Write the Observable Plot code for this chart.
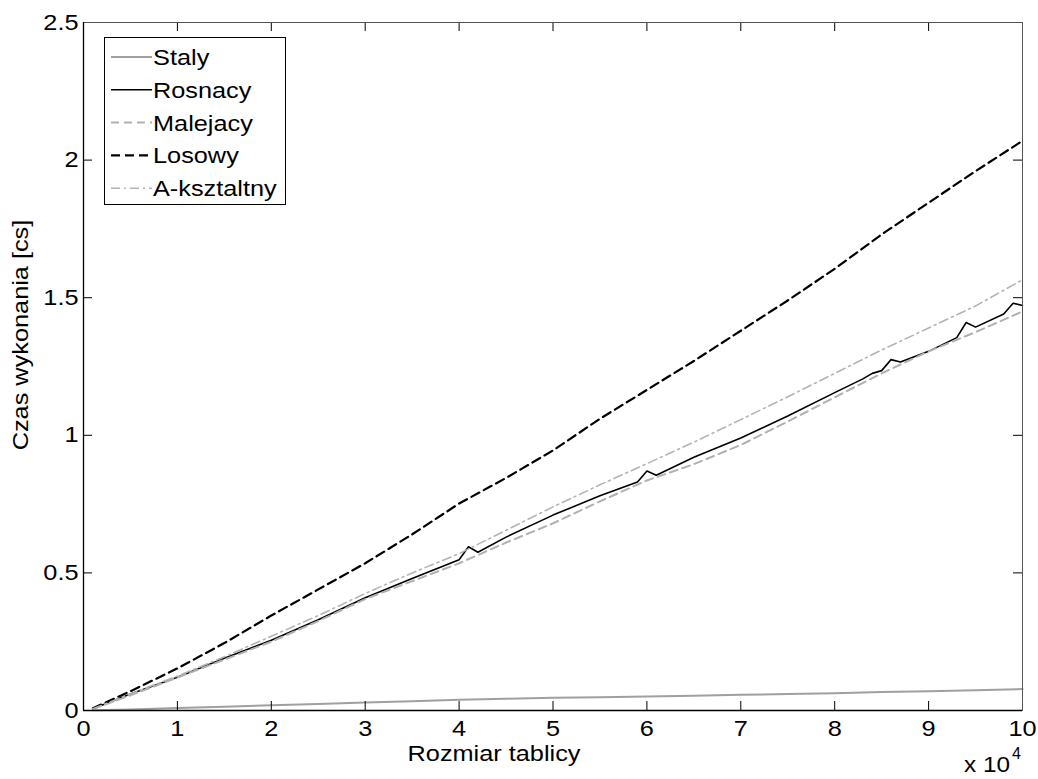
<!DOCTYPE html>
<html>
<head>
<meta charset="utf-8">
<script src="https://cdn.jsdelivr.net/npm/d3@7"></script>
<script src="https://cdn.jsdelivr.net/npm/@observablehq/plot@0.6"></script>
<style>
  html, body { margin: 0; padding: 0; background: #fff; }
  #chart { position: relative; width: 1038px; height: 779px; }
</style>
</head>
<body>
<div id="chart"></div>
<script>
// ---- data (time in cs vs array size) ----
const sizes = [1000, 5000, 10000, 15000, 20000, 25000, 30000, 35000, 40000, 45000, 50000,
               55000, 60000, 65000, 70000, 75000, 80000, 85000, 90000, 95000, 100000];
const staly = [0.001, 0.004, 0.009, 0.014, 0.019, 0.024, 0.029, 0.034, 0.039, 0.043, 0.046,
               0.048, 0.051, 0.054, 0.057, 0.060, 0.063, 0.067, 0.070, 0.074, 0.078];
const malejacy = [0.005, 0.055, 0.120, 0.185, 0.250, 0.325, 0.405, 0.470, 0.535, 0.610, 0.680,
                  0.760, 0.836, 0.895, 0.965, 1.050, 1.138, 1.225, 1.305, 1.375, 1.450];
const losowy = [0.008, 0.070, 0.153, 0.245, 0.345, 0.440, 0.535, 0.640, 0.752, 0.845, 0.945,
                1.060, 1.165, 1.270, 1.380, 1.490, 1.605, 1.730, 1.845, 1.960, 2.070];
const aksztaltny = [0.006, 0.060, 0.125, 0.195, 0.270, 0.345, 0.425, 0.500, 0.570, 0.655, 0.740,
                    0.820, 0.897, 0.975, 1.057, 1.140, 1.225, 1.310, 1.390, 1.470, 1.565];
const rosnacySizes = [1000, 5000, 10000, 15000, 20000, 25000, 30000, 35000, 40000, 41000, 42000,
                      45000, 50000, 55000, 59000, 60000, 61000, 65000, 70000, 75000, 80000, 83000,
                      84000, 85000, 86000, 87000, 90000, 93000, 94000, 95000, 98000, 99000, 100000];
const rosnacy = [0.006, 0.060, 0.121, 0.190, 0.255, 0.330, 0.410, 0.480, 0.548, 0.595, 0.575,
                 0.630, 0.710, 0.780, 0.830, 0.870, 0.855, 0.920, 0.990, 1.070, 1.155, 1.205,
                 1.225, 1.235, 1.275, 1.266, 1.305, 1.355, 1.410, 1.393, 1.441, 1.480, 1.472];
const seriesNames = ["Staly", "Rosnacy", "Malejacy", "Losowy", "A-ksztaltny"];
const xTicks = [0, 10000, 20000, 30000, 40000, 50000, 60000, 70000, 80000, 90000, 100000];
const yTicks = [0, 0.5, 1, 1.5, 2, 2.5];

// styles per series
const styles = {
  "Staly":       {stroke: "#a0a0a0", strokeWidth: 2,   dash: null},
  "Rosnacy":     {stroke: "#000000", strokeWidth: 1.6, dash: null},
  "Malejacy":    {stroke: "#b0b0b0", strokeWidth: 2,   dash: "8,5"},
  "Losowy":      {stroke: "#000000", strokeWidth: 2.2, dash: "9,5"},
  "A-ksztaltny": {stroke: "#b4b4b4", strokeWidth: 1.6, dash: "9,4,2,4"}
};

const mk = (xs, ys) => xs.map((x, i) => ({x, y: ys[i]}));
const table = {
  "Staly": mk(sizes, staly),
  "Rosnacy": mk(rosnacySizes, rosnacy),
  "Malejacy": mk(sizes, malejacy),
  "Losowy": mk(sizes, losowy),
  "A-ksztaltny": mk(sizes, aksztaltny)
};

const W = 1038, H = 779;
const mL = 83, mR = 16, mT = 22, mB = 69;
const FONT = "'Liberation Sans', Arial, Helvetica, sans-serif";
const tick = 9;

const lineMarks = seriesNames.map(name => {
  const s = styles[name];
  return Plot.line(table[name], {x: "x", y: "y", stroke: s.stroke, strokeWidth: s.strokeWidth,
    strokeDasharray: s.dash ?? undefined, strokeLinejoin: "round"});
});

const plot = Plot.plot({
  width: W, height: H,
  marginLeft: mL, marginRight: mR, marginTop: mT, marginBottom: mB,
  style: {fontFamily: FONT, fontSize: "22px", background: "#fff", color: "#000"},
  x: {domain: [0, 100000]},
  y: {domain: [0, 2.5]},
  marks: [
    ...lineMarks,
    // inward ticks on all four sides
    Plot.tickX(xTicks, {x: d => d, insetTop: H - mT - mB - tick, stroke: "#000", strokeWidth: 1}),
    Plot.tickX(xTicks, {x: d => d, insetBottom: H - mT - mB - tick, stroke: "#000", strokeWidth: 1}),
    Plot.tickY(yTicks, {y: d => d, insetRight: W - mL - mR - tick, stroke: "#000", strokeWidth: 1}),
    Plot.tickY(yTicks, {y: d => d, insetLeft: W - mL - mR - tick, stroke: "#000", strokeWidth: 1}),
    Plot.frame({stroke: "#555", strokeWidth: 1}),
    Plot.ruleY([0], {stroke: "#000", strokeWidth: 1.3}),
    Plot.ruleX([0], {stroke: "#000", strokeWidth: 1.3}),
    Plot.axisX(xTicks, {tickSize: 0, tickPadding: 10, tickFormat: d => String(d / 10000),
      fontSize: 22, label: null}),
    Plot.axisY(yTicks, {tickSize: 0, tickPadding: 5, tickFormat: d => String(d),
      fontSize: 22, label: null})
  ]
});

document.getElementById("chart").appendChild(plot);
const svg = d3.select(plot);

// axis labels
svg.append("text").attr("x", 494).attr("y", 761).attr("text-anchor", "middle")
  .attr("font-size", 22).attr("font-family", FONT).text("Rozmiar tablicy");
svg.append("text").attr("transform", "translate(28,335) rotate(-90)").attr("text-anchor", "middle")
  .attr("font-size", 22).attr("font-family", FONT).text("Czas wykonania [cs]");
const mult = svg.append("text").attr("x", 964).attr("y", 772).attr("text-anchor", "start")
  .attr("font-size", 22).attr("font-family", FONT);
mult.append("tspan").attr("textLength", 46).attr("lengthAdjust", "spacingAndGlyphs").text("x 10");
mult.append("tspan").attr("dy", -13).attr("dx", 2).attr("font-size", 16).text("4");

// legend
const lg = svg.append("g").attr("class", "legend");
lg.append("rect").attr("x", 104.5).attr("y", 37.5).attr("width", 181).attr("height", 167)
  .attr("fill", "#fff").attr("stroke", "#000").attr("stroke-width", 1);
seriesNames.forEach((name, i) => {
  const s = styles[name];
  const yy = 57 + i * 32.8;
  lg.append("line").attr("x1", 111).attr("x2", 152).attr("y1", yy).attr("y2", yy)
    .attr("stroke", s.stroke).attr("stroke-width", s.strokeWidth)
    .attr("stroke-dasharray", s.dash);
  lg.append("text").attr("x", 153).attr("y", yy).attr("dy", "0.36em").attr("text-anchor", "start")
    .attr("font-size", 22).attr("font-family", FONT).text(name);
});

// widen glyphs slightly to match the reference's wide rendering
svg.selectAll("text").each(function() {
  if (this.querySelector("tspan")) return;
  const len = this.getComputedTextLength();
  if (len > 0) {
    this.setAttribute("textLength", (len * 1.15).toFixed(1));
    this.setAttribute("lengthAdjust", "spacingAndGlyphs");
  }
});
</script>
</body>
</html>
